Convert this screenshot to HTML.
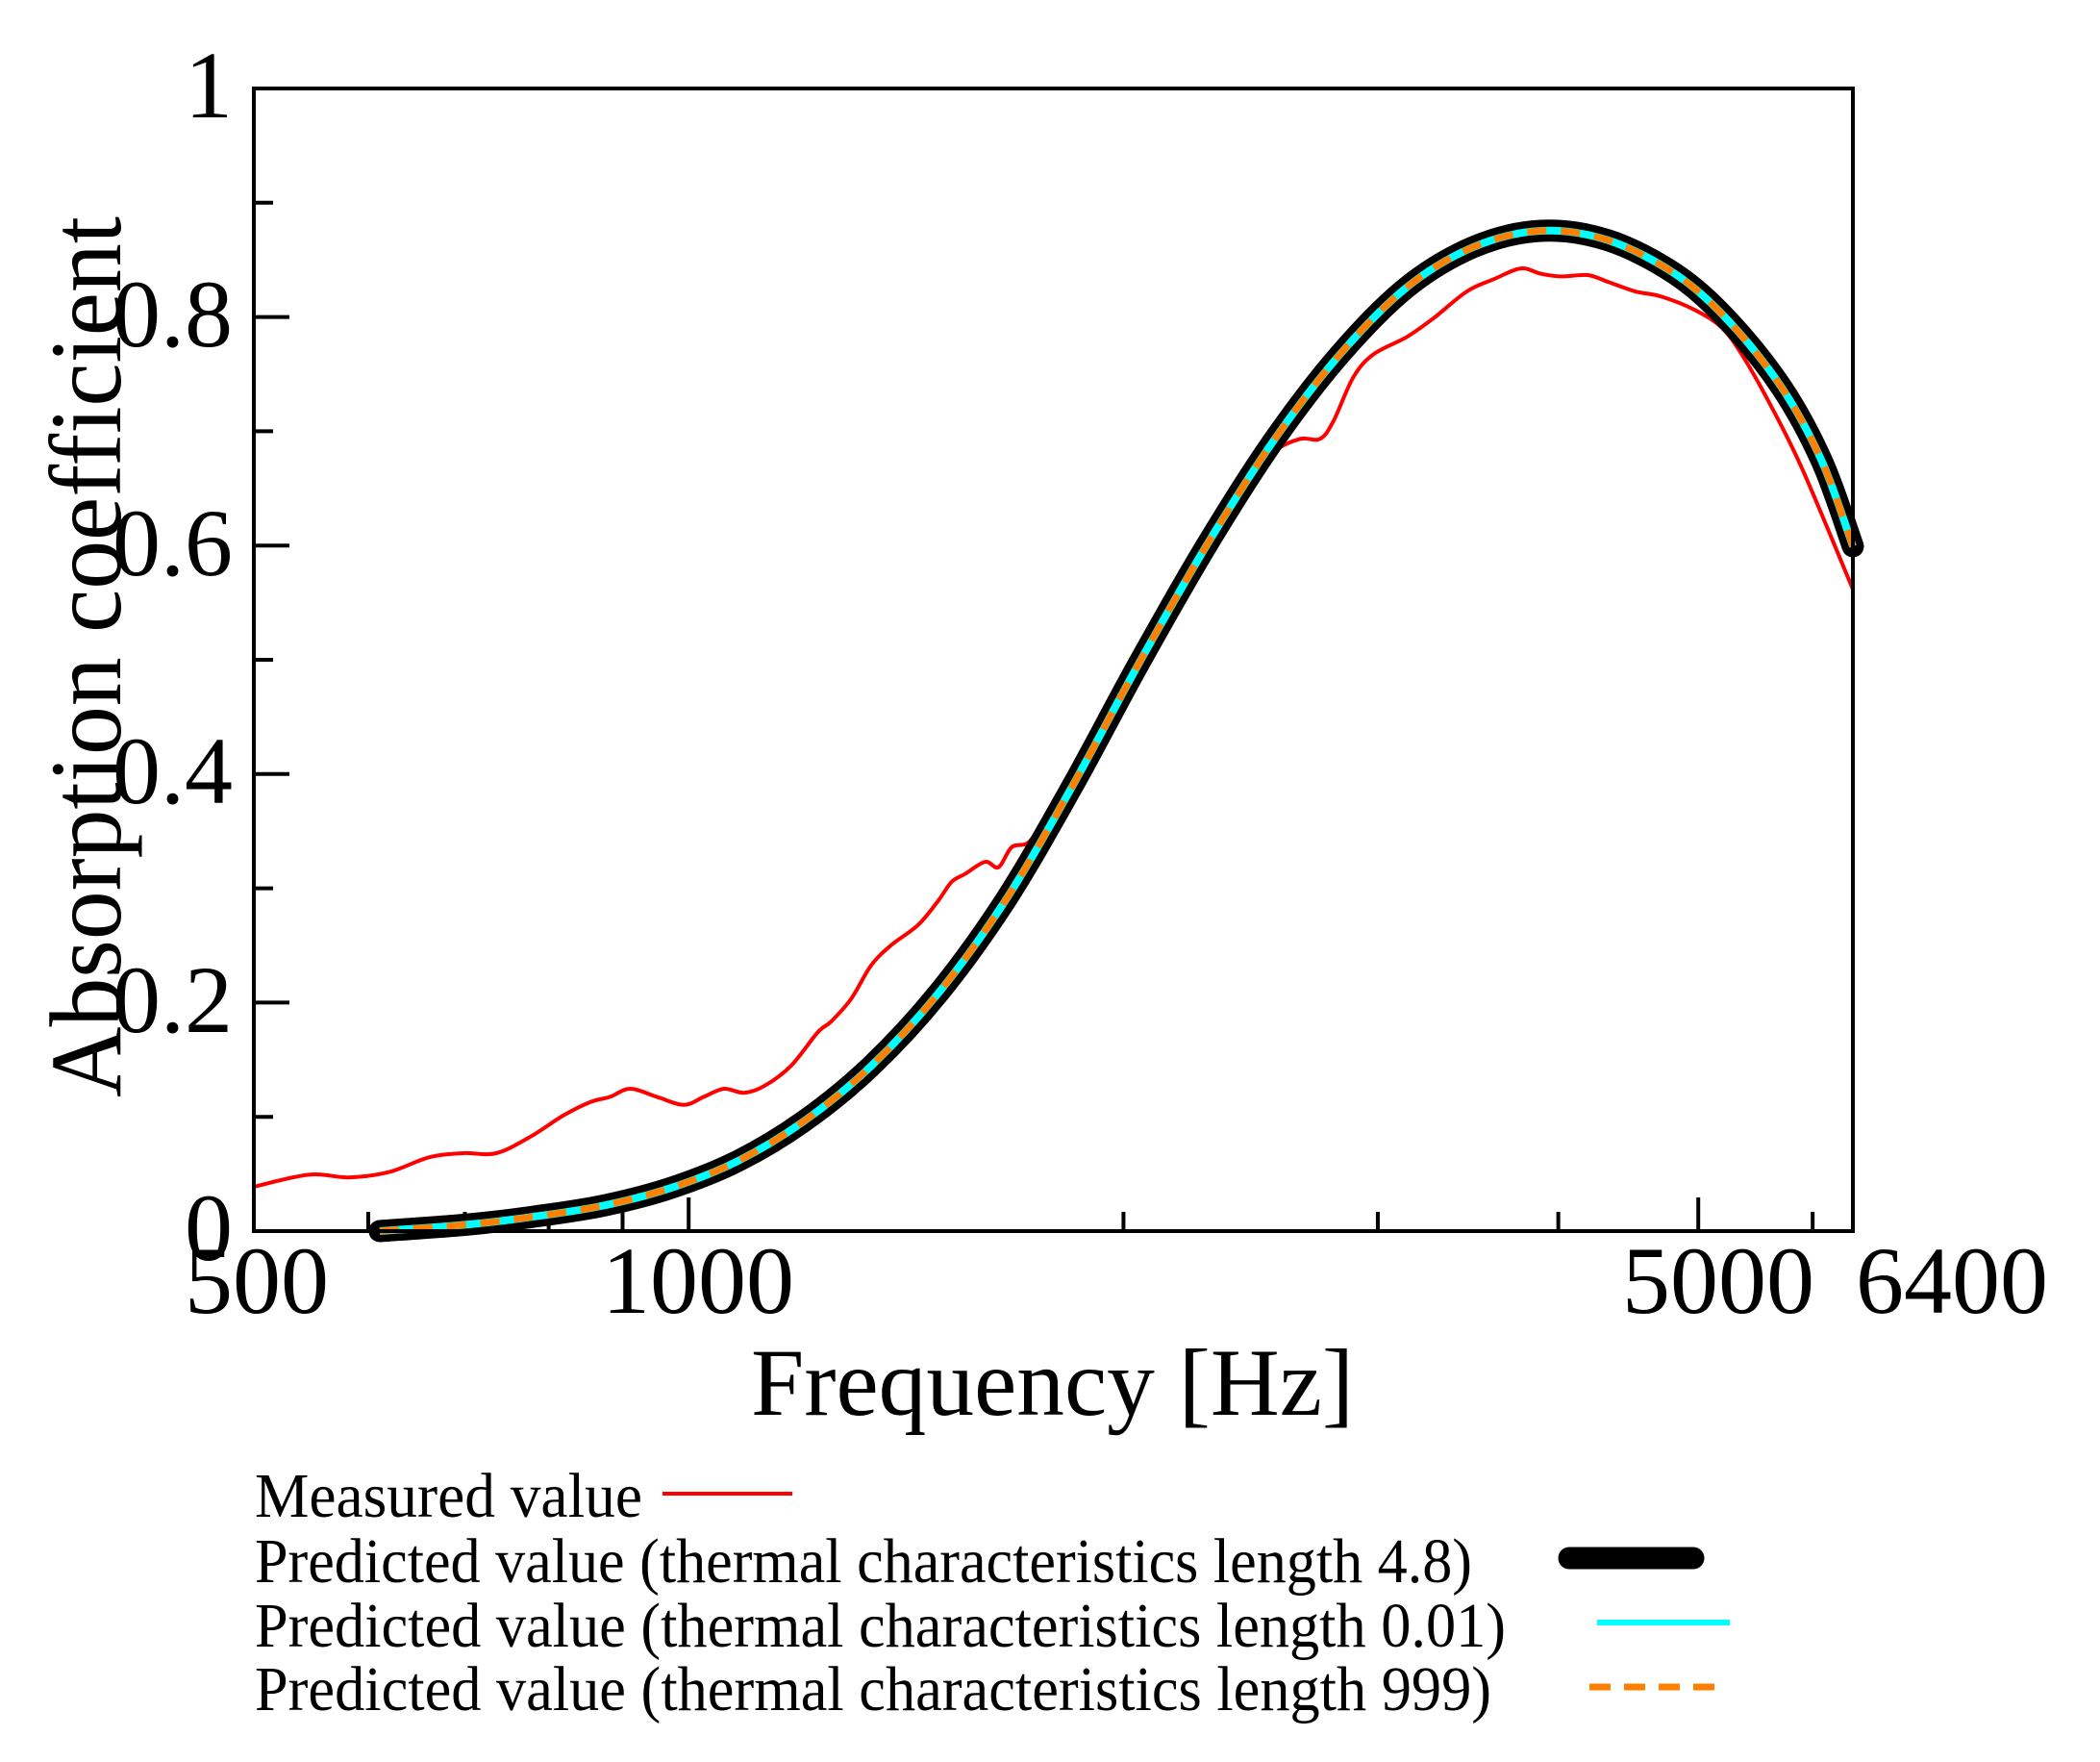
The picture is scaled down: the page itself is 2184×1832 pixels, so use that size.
<!DOCTYPE html>
<html><head><meta charset="utf-8"><style>
html,body{margin:0;padding:0;background:#fff;}
svg{display:block;}
text{font-family:"Liberation Serif",serif;fill:#000;}
</style></head><body>
<svg id="s" width="2184" height="1832" viewBox="0 0 2184 1832" xmlns="http://www.w3.org/2000/svg">
<rect x="0" y="0" width="2184" height="1832" fill="#fff"/>
<g id="ticks" stroke="#000" stroke-width="4"></g>
<g id="curves"></g>
<rect x="264" y="92" width="1663" height="1188" fill="none" stroke="#000" stroke-width="4"/>
<g font-size="100" text-anchor="end">
<text x="242" y="122">1</text>
<text x="242" y="360">0.8</text>
<text x="242" y="598">0.6</text>
<text x="242" y="835">0.4</text>
<text x="242" y="1073">0.2</text>
<text x="242" y="1310">0</text>
</g>
<g font-size="100">
<text x="267" y="1365" text-anchor="middle">500</text>
<text x="726" y="1365" text-anchor="middle">1000</text>
<text x="1787" y="1365" text-anchor="middle">5000</text>
<text x="1930" y="1365">6400</text>
</g>
<text x="781" y="1471" font-size="100" textLength="627" lengthAdjust="spacingAndGlyphs">Frequency [Hz]</text>
<text transform="translate(125,1141) rotate(-90)" font-size="106" textLength="916" lengthAdjust="spacingAndGlyphs">Absorption coefficient</text>
<g font-size="66">
<text x="265" y="1577" textLength="403" lengthAdjust="spacingAndGlyphs">Measured value</text>
<text x="265" y="1645" textLength="1266" lengthAdjust="spacingAndGlyphs">Predicted value (thermal characteristics length 4.8)</text>
<text x="265" y="1712" textLength="1301" lengthAdjust="spacingAndGlyphs">Predicted value (thermal characteristics length 0.01)</text>
<text x="265" y="1778" textLength="1286" lengthAdjust="spacingAndGlyphs">Predicted value (thermal characteristics length 999)</text>
</g>
<line x1="689" y1="1553" x2="824" y2="1553" stroke="#f00" stroke-width="4"/>
<line x1="1632" y1="1620" x2="1761" y2="1620" stroke="#000" stroke-width="23" stroke-linecap="round"/>
<line x1="1661" y1="1687" x2="1799" y2="1687" stroke="#0ff" stroke-width="6"/>
<line x1="1653" y1="1754" x2="1783" y2="1754" stroke="#ff8000" stroke-width="7" stroke-dasharray="22 14"/>
</svg>
<script>
var NS="http://www.w3.org/2000/svg";
function X(f){return 264+Math.log(f/500)*652.4;}
var tk=document.getElementById("ticks");
function line(g,x1,y1,x2,y2,a){var l=document.createElementNS(NS,"line");l.setAttribute("x1",x1);l.setAttribute("y1",y1);l.setAttribute("x2",x2);l.setAttribute("y2",y2);for(var k in a)l.setAttribute(k,a[k]);g.appendChild(l);}
[600,700,800,900,2000,3000,4000,6000].forEach(function(f){line(tk,X(f),1280,X(f),1260,{});});
[1000,5000].forEach(function(f){line(tk,X(f),1280,X(f),1245,{});});
for(var i=1;i<10;i++){var y=1280-i*118.8;line(tk,264,y,(i%2==0)?301:284,y,{});}
function cv(dx,dy){return [264+(dx-189)*1.3928,92+(dy-67)*1.396];}
function path(pts){
 var p=pts.map(function(q){return cv(q[0],q[1]);});
 var d="M"+p[0][0].toFixed(1)+" "+p[0][1].toFixed(1);
 for(var i=0;i<p.length-1;i++){
  var p0=p[i>0?i-1:i],p1=p[i],p2=p[i+1],p3=p[i+2<p.length?i+2:i+1];
  var c1=[p1[0]+(p2[0]-p0[0])/6,p1[1]+(p2[1]-p0[1])/6];
  var c2=[p2[0]-(p3[0]-p1[0])/6,p2[1]-(p3[1]-p1[1])/6];
  d+=" C"+c1[0].toFixed(1)+" "+c1[1].toFixed(1)+" "+c2[0].toFixed(1)+" "+c2[1].toFixed(1)+" "+p2[0].toFixed(1)+" "+p2[1].toFixed(1);
 }
 return d;
}
var red=[[189,885],[230,876],[260,878],[290,874],[320,863],[345,860],[370,860],[395,848],[420,832],[440,822],[455,818],[470,812],[490,818],[510,824],[525,818],[540,812],[555,815],[570,810],[590,795],[610,770],[620,762],[635,745],[650,720],[665,705],[685,690],[700,672],[710,658],[720,652],[735,643],[745,647],[755,632],[768,628],[782,606],[800,574],[820,540],[840,506],[860,472],[880,442],[900,412],[912,395],[930,362],[950,338],[970,328],[985,328],[995,315],[1010,282],[1025,265],[1050,252],[1070,238],[1095,218],[1115,209],[1135,201],[1150,205],[1165,207],[1185,206],[1200,211],[1220,218],[1240,222],[1265,232],[1285,245],[1300,265],[1320,300],[1345,350],[1383,440]];
var blk=[[283,918],[350,913],[400,907],[450,899],[500,886],[550,866],[600,836],[650,795],[700,741],[750,672],[800,587],[850,495],[900,408],[950,330],[1000,265],[1050,215],[1100,185],[1150,173],[1200,180],[1250,205],[1290,240],[1330,290],[1360,345],[1383,408]];
var g=document.getElementById("curves");
function pth(d,a){var e=document.createElementNS(NS,"path");e.setAttribute("d",d);e.setAttribute("fill","none");for(var k in a)e.setAttribute(k,a[k]);g.appendChild(e);}
pth(path(red),{stroke:"#f00","stroke-width":4});
var bd=path(blk);
pth(bd,{stroke:"#000","stroke-width":23,"stroke-linecap":"round","stroke-linejoin":"round"});
pth(bd,{stroke:"#0ff","stroke-width":8});
pth(bd,{stroke:"#ff8000","stroke-width":7,"stroke-dasharray":"20 15"});
</script>
</body></html>
